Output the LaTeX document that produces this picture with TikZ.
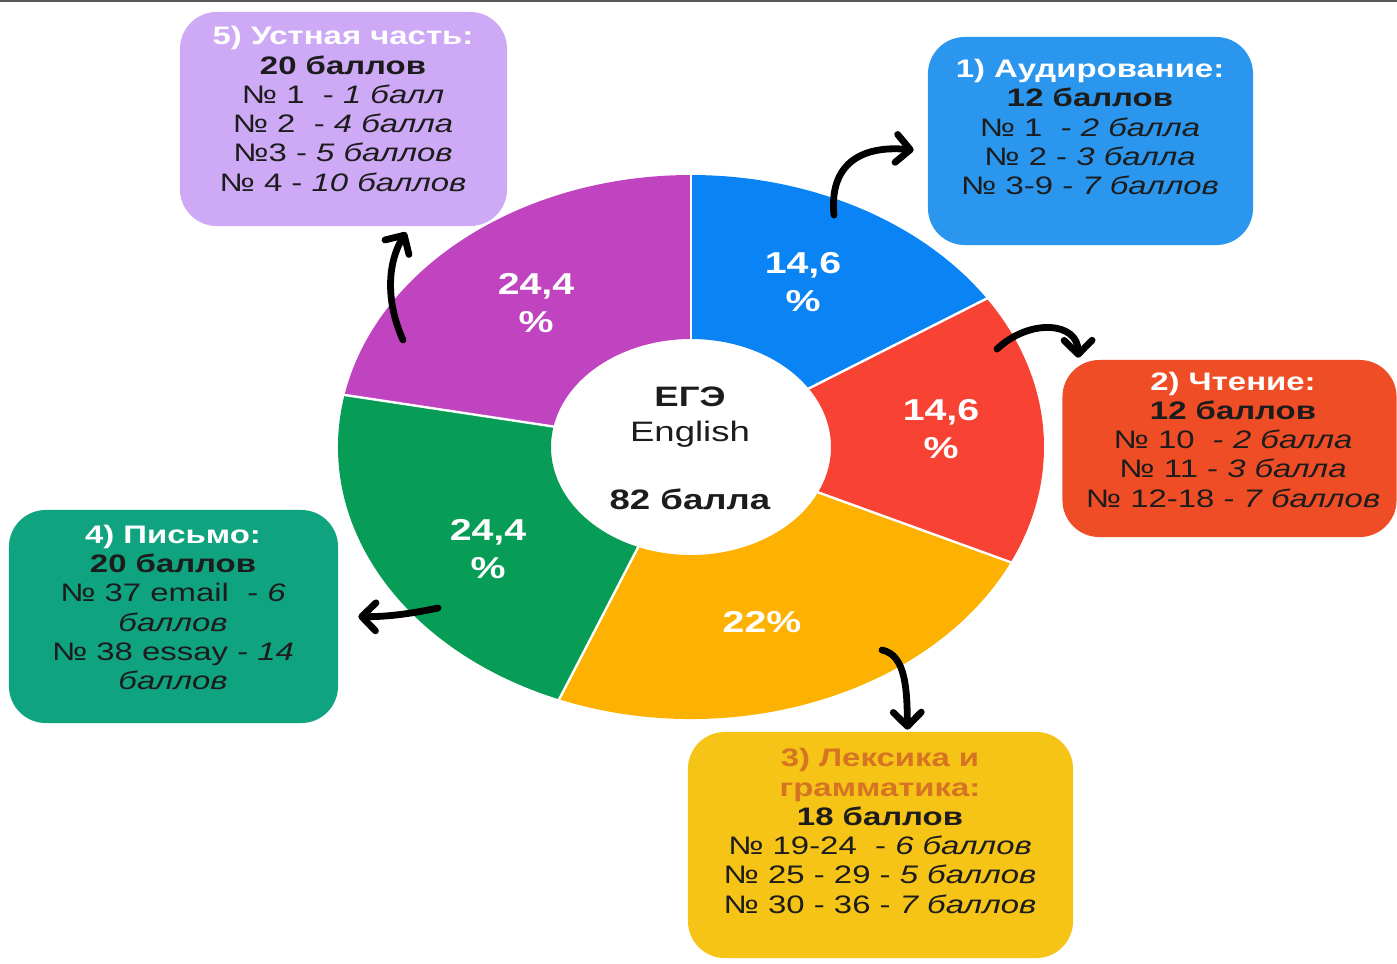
\documentclass[tikz,border=0pt]{standalone}
\usepackage{fontspec}
\setmainfont{Liberation Sans}[FakeStretch=1.3]
\usetikzlibrary{arrows.meta,calc,positioning}
\definecolor{ink}{RGB}{28,28,28}
\definecolor{slblue}{RGB}{10,132,245}
\definecolor{slred}{RGB}{247,66,52}
\definecolor{slyellow}{RGB}{253,178,2}
\definecolor{slgreen}{RGB}{8,157,86}
\definecolor{slpurple}{RGB}{192,68,192}
\definecolor{bxlav}{RGB}{206,170,246}
\definecolor{bxblue}{RGB}{42,150,238}
\definecolor{bxred}{RGB}{239,77,38}
\definecolor{bxteal}{RGB}{16,163,128}
\definecolor{bxyellow}{RGB}{245,196,22}
\definecolor{ttlorange}{RGB}{214,116,36}
\newcommand{\donutslice}[3]{%
  \fill[#1] ($(c)+(#2:353 and 272)$) arc[start angle=#2, end angle=#3, x radius=353, y radius=272]
    -- ($(c)+(#3:140 and 108)$) arc[start angle=#3, end angle=#2, x radius=140, y radius=108] -- cycle;}
\begin{document}
\begin{tikzpicture}[x=0.025cm, y=0.025cm, every node/.style={align=center}]
    \tikzstyle{box}=[rectangle, rounded corners=0.92cm, inner sep=0pt];
    \tikzstyle{info}=[font=\fontsize{18}{20.8}\selectfont, text=ink, inner sep=0pt];
    \tikzstyle{pct}=[font=\fontsize{21.5}{27}\selectfont\bfseries, text=white, inner sep=0pt];
    \tikzstyle{hand}=[-{Straight Barb[length=0.35cm, width=0.7cm, line cap=round, line join=round]}, line width=0.17cm, line cap=round];
    \useasboundingbox (0,0) rectangle (1397,-963);
    \draw[black!65, line width=0.05cm] (0,-1) -- (1397,-1);
    \coordinate (c) at (691,-447);
    \donutslice{slblue}{90}{33}
    \donutslice{slred}{33}{-25}
    \donutslice{slyellow}{-25}{-112}
    \donutslice{slgreen}{-112}{-191}
    \donutslice{slpurple}{169}{90}
    \foreach \a in {90,33,-25,-112,169}
        \draw[white, line width=0.06cm] ($(c)+(\a:136 and 104)$) -- ($(c)+(\a:357 and 276)$);
    \node[font=\fontsize{20}{24.4}\selectfont, text=ink] (mid) at (690,-448.5) {\textbf{ЕГЭ}\\English\\[24.4pt]\textbf{82 балла}};
    \node[pct] (pl1) at (803,-282) {14,6\\\%};
    \node[pct] (pl2) at (941,-429) {14,6\\\%};
    \node[pct] (pl3) at (762,-622) {22\%};
    \node[pct] (pl4) at (488,-549) {24,4\\\%};
    \node[pct] (pl5) at (536,-303) {24,4\\\%};
    \node[box, fill=bxblue, minimum width=8.125cm, minimum height=5.2cm] (box1) at (1090.5,-141) {};
    \node[box, fill=bxred, minimum width=8.35cm, minimum height=4.425cm] (box2) at (1229.5,-448.5) {};
    \node[box, fill=bxyellow, minimum width=9.625cm, minimum height=5.65cm] (box3) at (880.5,-845) {};
    \node[box, fill=bxteal, minimum width=8.225cm, minimum height=5.325cm] (box4) at (173.5,-616.5) {};
    \node[box, fill=bxlav, minimum width=8.175cm, minimum height=5.35cm] (box5) at (343.5,-119) {};
    \node[info] (txt1) at (1090,-127) {\textcolor{white}{\bfseries 1) Аудирование:}\\\textbf{12 баллов}\\№ 1\ \ - \textit{2 балла}\\№ 2 - \textit{3 балла}\\№ 3-9 - \textit{7 баллов}};
    \node[info] (txt2) at (1233,-439.5) {\textcolor{white}{\bfseries 2) Чтение:}\\\textbf{12 баллов}\\№ 10\ \ - \textit{2 балла}\\№ 11 - \textit{3 балла}\\№ 12-18 - \textit{7 баллов}};
    \node[info] (txt3) at (880,-831) {\textcolor{ttlorange}{\bfseries 3) Лексика и}\\\textcolor{ttlorange}{\bfseries грамматика:}\\\textbf{18 баллов}\\№ 19-24\ \ - \textit{6 баллов}\\№ 25 - 29 - \textit{5 баллов}\\№ 30 - 36 - \textit{7 баллов}};
    \node[info] (txt4) at (173,-607.5) {\textcolor{white}{\bfseries 4) Письмо:}\\\textbf{20 баллов}\\№ 37 email\ \ - \textit{6}\\\textit{баллов}\\№ 38 essay - \textit{14}\\\textit{баллов}};
    \node[info] (txt5) at (343,-109) {\textcolor{white}{\bfseries 5) Устная часть:}\\\textbf{20 баллов}\\№ 1\ \ - \textit{1 балл}\\№ 2\ \ - \textit{4 балла}\\№3 - \textit{5 баллов}\\№ 4 - \textit{10 баллов}};
    \coordinate (t1) at (834,-215);
    \coordinate (t2) at (997,-349);
    \coordinate (t3) at (882,-650);
    \coordinate (t4) at (438,-608);
    \coordinate (t5) at (403,-340);
    \draw[hand] (t1) .. controls (829,-165) and (860,-145) .. ($(box1.west)+(-14,-9)$);
    \draw[hand] (t2) .. controls (1030,-318) and (1078,-322) .. ($(box2.north west)+(16,2)$);
    \draw[hand] (t3) .. controls (906,-655) and (907,-690) .. ($(box3.north)+(27,2)$);
    \draw[hand] (t4) .. controls (410,-614) and (385,-617) .. ($(box4.east)+(20,0)$);
    \draw[hand] (t5) .. controls (385,-300) and (388,-262) .. ($(box5.south)+(62.5,-6)$);
\end{tikzpicture}
\end{document}
